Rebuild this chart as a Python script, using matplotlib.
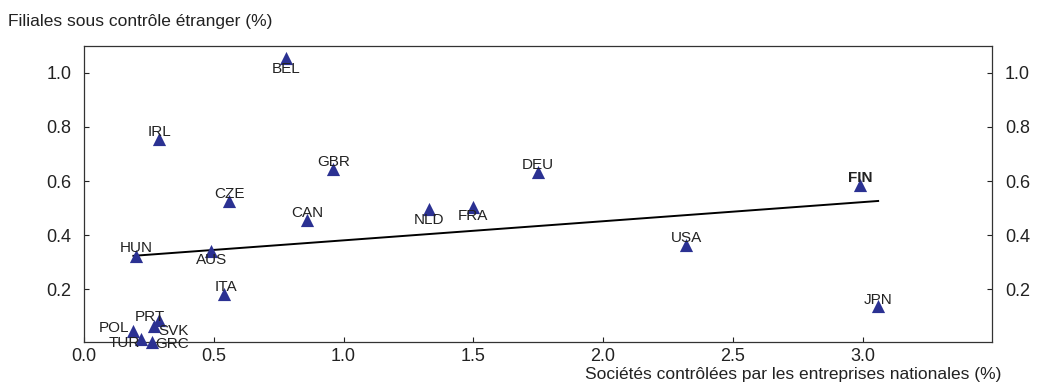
import numpy as np
import matplotlib.pyplot as plt

plt.rcParams["font.family"] = ["Liberation Sans", "DejaVu Sans"]

# Country data: national firms (x) vs foreign affiliates (y), in %
countries = ["BEL", "IRL", "GBR", "CZE", "CAN", "HUN", "AUS", "NLD", "FRA",
             "DEU", "USA", "FIN", "JPN", "ITA", "PRT", "SVK", "POL", "TUR", "GRC"]
nationales = [0.78, 0.29, 0.96, 0.56, 0.86, 0.20, 0.49, 1.33, 1.50,
              1.75, 2.32, 2.99, 3.06, 0.54, 0.29, 0.27, 0.19, 0.22, 0.26]
etrangeres = [1.055, 0.757, 0.646, 0.526, 0.456, 0.323, 0.342, 0.496, 0.505,
              0.634, 0.363, 0.585, 0.136, 0.183, 0.085, 0.065, 0.044, 0.016, 0.003]

# label offsets in points (dx, dy) and horizontal alignment
label_pos = {
    "BEL": (0, -8, "center"), "IRL": (0, 5, "center"), "GBR": (0, 5, "center"),
    "CZE": (0, 5, "center"), "CAN": (0, 5, "center"), "HUN": (0, 6, "center"),
    "AUS": (0, -7, "center"), "NLD": (0, -8, "center"), "FRA": (0, -7, "center"),
    "DEU": (0, 5, "center"), "USA": (0, 5, "center"), "FIN": (0, 5, "center"),
    "JPN": (0, 5, "center"), "ITA": (1, 5, "center"), "PRT": (4, 2, "right"),
    "SVK": (3, -4, "left"), "POL": (-3, 2.5, "right"), "TUR": (-1, -3, "right"),
    "GRC": (3, -1, "left"),
}

x = np.array(nationales)
y = np.array(etrangeres)
slope, intercept = np.polyfit(x, y, 1)
line_x = np.array([x.min(), x.max()])

fig = plt.figure(figsize=(10.38, 3.85), dpi=100)
ax = fig.add_axes([0.081, 0.112, 0.875, 0.769])

ax.plot(line_x, intercept + slope * line_x, color="black", lw=1.4, zorder=2)
ax.scatter(x, y, marker="^", s=90, color="#2B3192", zorder=3, linewidths=0,
           clip_on=False)

for name, xi, yi in zip(countries, x, y):
    dx, dy, ha = label_pos[name]
    ax.annotate(name, (xi, yi), xytext=(dx, dy), textcoords="offset points",
                ha=ha, va="center", fontsize=11, color="#222222",
                fontweight="bold" if name == "FIN" else "normal", zorder=4,
                annotation_clip=False)

ax.set_xlim(0, 3.5)
ax.set_ylim(0.005, 1.1)
ax.set_xticks([0.0, 0.5, 1.0, 1.5, 2.0, 2.5, 3.0])
ax.set_yticks([0.2, 0.4, 0.6, 0.8, 1.0])
ax.xaxis.set_major_formatter(plt.FormatStrFormatter("%.1f"))
ax.yaxis.set_major_formatter(plt.FormatStrFormatter("%.1f"))
ax.tick_params(direction="in", length=3.5, width=0.8, labelsize=13,
               colors="#222222", right=True, labelright=True, pad=9)
ax.tick_params(axis="x", pad=4.5)
for sp in ax.spines.values():
    sp.set_color("#333333")
    sp.set_linewidth(0.9)

fig.text(0.008, 0.945, "Filiales sous contrôle étranger (%)", fontsize=12.5,
         color="#222222", ha="left", va="center")
fig.text(0.965, 0.028, "Sociétés contrôlées par les entreprises nationales (%)",
         fontsize=12.5, color="#222222", ha="right", va="center")

fig.savefig("out.png", dpi=100)
